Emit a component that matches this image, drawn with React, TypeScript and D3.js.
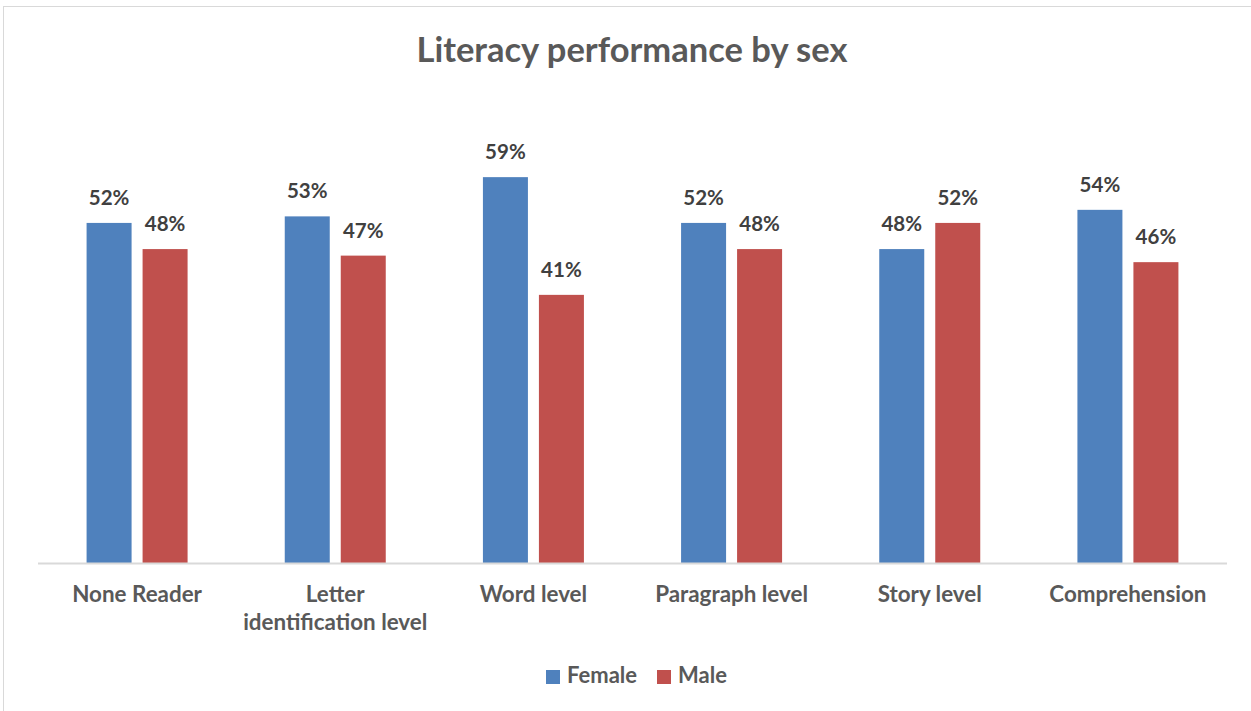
import React from "react";
import * as d3 from "d3";

const categories: string[][] = [
  ["None Reader"],
  ["Letter", "identification level"],
  ["Word level"],
  ["Paragraph level"],
  ["Story level"],
  ["Comprehension"],
];
const female = [52, 53, 59, 52, 48, 54];
const male = [48, 47, 41, 48, 52, 46];
const seriesNames = ["Female", "Male"];
const colors = ["#4F81BD", "#C0504D"];

const W = 1251;
const H = 711;
const FONT = "Lato, 'Open Sans', sans-serif";

export default function App() {
  const x0 = 38, x1 = 1227, baseY = 563;
  const x = d3.scaleBand<number>().domain(d3.range(categories.length)).range([x0, x1]);
  const y = d3.scaleLinear().domain([0, 100]).range([baseY, baseY - 654]);
  const bw = 45, gap = 11;
  const groupW = bw * 2 + gap;
  const data = [female, male];

  return (
    <svg width={W} height={H} style={{ position: "fixed", left: 0, top: 0, background: "#fff" }}>
      <rect x={3.5} y={6.5} width={W + 10} height={H + 10} fill="#fff" stroke="#D9D9D9" strokeWidth={1} />
      <text x={632} y={62} textAnchor="middle" fontFamily={FONT} fontWeight={700} fontSize={34.5} fill="#595959">
        Literacy performance by sex
      </text>
      {categories.map((cat, i) => {
        const cx = (x(i) as number) + x.bandwidth() / 2;
        const gx = cx - groupW / 2;
        return (
          <g key={i}>
            {data.map((s, j) => {
              const bx = gx + j * (bw + gap);
              const top = y(s[i]);
              return (
                <g key={j}>
                  <rect x={bx} y={top} width={bw} height={baseY - top} fill={colors[j]} />
                  <text x={bx + bw / 2} y={top - 18} textAnchor="middle" fontFamily={FONT} fontWeight={700} fontSize={20.5} fill="#404040">
                    {s[i]}%
                  </text>
                </g>
              );
            })}
            {cat.map((line, k) => (
              <text key={k} x={cx} y={602 + k * 28} textAnchor="middle" fontFamily={FONT} fontWeight={700} fontSize={22.4} fill="#595959">
                {line}
              </text>
            ))}
          </g>
        );
      })}
      <line x1={x0} x2={x1} y1={baseY + 0.5} y2={baseY + 0.5} stroke="#D9D9D9" strokeWidth={2} />
      {seriesNames.map((n, j) => {
        const lx = j === 0 ? 546 : 657;
        return (
          <g key={n}>
            <rect x={lx} y={670} width={14} height={14} fill={colors[j]} />
            <text x={lx + 21} y={683} fontFamily={FONT} fontWeight={700} fontSize={22} fill="#595959">
              {n}
            </text>
          </g>
        );
      })}
    </svg>
  );
}
